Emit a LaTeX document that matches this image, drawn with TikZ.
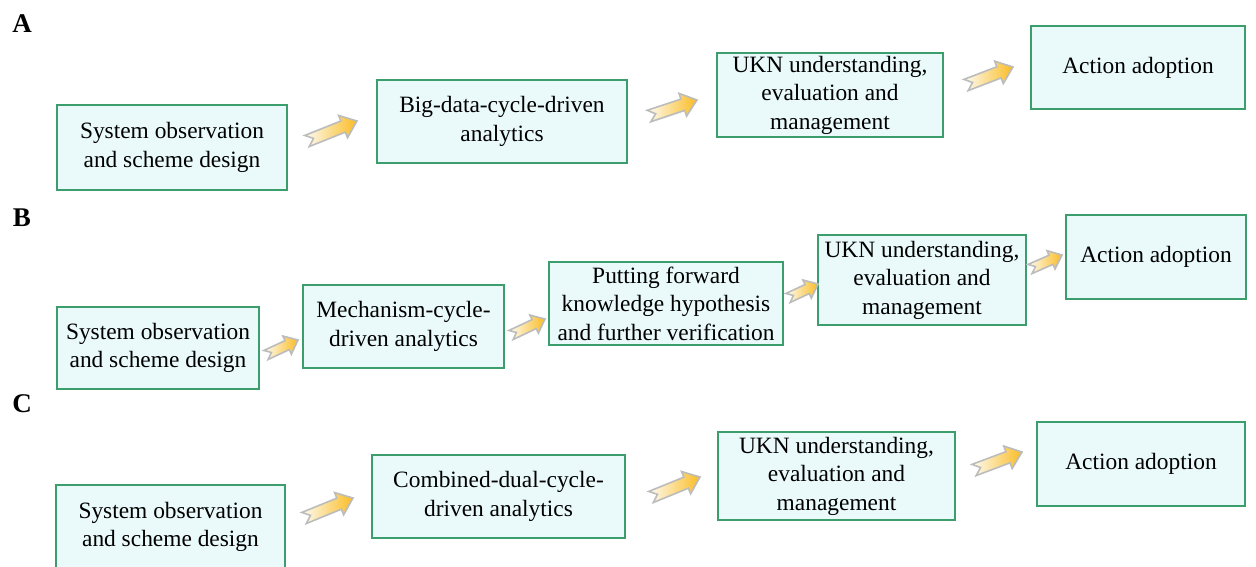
\documentclass[tikz,border=0pt]{standalone}
\usepackage{fontspec}
\setmainfont{Liberation Serif}
\usetikzlibrary{calc}
\definecolor{boxgreen}{RGB}{60,158,108}
\definecolor{boxfill}{RGB}{234,250,250}
\definecolor{argold}{RGB}{250,188,36}
\definecolor{artail}{RGB}{253,251,242}
\definecolor{arline}{RGB}{188,188,188}
\tikzset{
  stagebox/.style={draw=boxgreen, line width=2pt, fill=boxfill, inner sep=0pt,
    align=center, font=\fontsize{23.4}{28.5}\selectfont},
  rowlabel/.style={font=\fontsize{27}{30}\selectfont\bfseries, inner sep=0pt},
  flowarrowstyle/.style={draw=arline, line width=1.6pt, line join=miter,
    left color=artail, right color=argold},
}
% box from corner (x1,y1) to (x2,y2) in pixel units
\newcommand\stage[6]{%
  \node[stagebox, minimum width={(#4-#2)*1pt}, minimum height={(#5-#3)*1pt}]
    (#1) at ({(#2+#4)/2},{(#3+#5)/2}) {#6};}
% block arrow from tail coordinate #1 to tip coordinate #2
\newcommand\flowarrow[6]{%
  \coordinate (#1-n) at ($(#1)!#6!(#2)$);
  \coordinate (#1-b) at ($(#2)!#5!(#1)$);
  \shadedraw[flowarrowstyle] ($(#1)!#3!90:(#2)$) -- ($(#1-b)!#3!-90:(#1)$)
    -- ($(#1-b)!#4!-90:(#1)$) -- (#2) -- ($(#1-b)!#4!90:(#1)$)
    -- ($(#1-b)!#3!90:(#1)$) -- ($(#1)!#3!-90:(#2)$) -- (#1-n) -- cycle;}
\begin{document}
\begin{tikzpicture}[x=1pt,y=-1pt]
\useasboundingbox (0,0) rectangle (1256,566);
% row labels
\node[rowlabel] (labA) at (22,24) {A};
\node[rowlabel] (labB) at (22,218) {B};
\node[rowlabel] (labC) at (22,404) {C};
% row A
\stage{A1}{57}{105}{287}{190}{System observation\\and scheme design}
\stage{A2}{377}{80}{627}{163}{Big-data-cycle-driven\\analytics}
\stage{A3}{717}{53}{943}{137}{UKN understanding,\\evaluation and\\management}
\stage{A4}{1031}{26}{1245}{109}{Action adoption}
% row B
\stage{B1}{57}{307}{259}{389}{System observation\\and scheme design}
\stage{B2}{303}{285}{504}{368}{Mechanism-cycle-\\driven analytics}
\stage{B3}{549}{262}{783}{345}{Putting forward\\knowledge hypothesis\\and further verification}
\stage{B4}{818}{235}{1026}{325}{UKN understanding,\\evaluation and\\management}
\stage{B5}{1066}{215}{1246}{299}{Action adoption}
% row C
\stage{C1}{56}{485}{285}{569}{System observation\\and scheme design}
\stage{C2}{372}{455}{625}{538}{Combined-dual-cycle-\\driven analytics}
\stage{C3}{718}{432}{955}{520}{UKN understanding,\\evaluation and\\management}
\stage{C4}{1037}{422}{1245}{506}{Action adoption}
% arrow end points
\coordinate (tA1) at (307,141); \coordinate (hA1) at (357,121);
\coordinate (tA2) at (649,116); \coordinate (hA2) at (697,100);
\coordinate (tA3) at (966,85);  \coordinate (hA3) at (1013,67);
\coordinate (tB1) at (266,355); \coordinate (hB1) at (298,340);
\coordinate (tB2) at (511,335); \coordinate (hB2) at (545,319);
\coordinate (tB3) at (788,298); \coordinate (hB3) at (818,284);
\coordinate (tB4) at (1030,269); \coordinate (hB4) at (1062,255);
\coordinate (tC1) at (304,518); \coordinate (hC1) at (353,498);
\coordinate (tC2) at (651,497); \coordinate (hC2) at (700,477);
\coordinate (tC3) at (974,470); \coordinate (hC3) at (1022,452);
\flowarrow{tA1}{hA1}{6pt}{12pt}{15pt}{7pt}
\flowarrow{tA2}{hA2}{6pt}{12pt}{15pt}{7pt}
\flowarrow{tA3}{hA3}{6pt}{12pt}{15pt}{7pt}
\flowarrow{tB1}{hB1}{5pt}{10pt}{12pt}{6pt}
\flowarrow{tB2}{hB2}{5pt}{10pt}{12pt}{6pt}
\flowarrow{tB3}{hB3}{5pt}{10pt}{12pt}{6pt}
\flowarrow{tB4}{hB4}{5pt}{10pt}{12pt}{6pt}
\flowarrow{tC1}{hC1}{6pt}{12pt}{15pt}{7pt}
\flowarrow{tC2}{hC2}{6pt}{12pt}{15pt}{7pt}
\flowarrow{tC3}{hC3}{6pt}{12pt}{15pt}{7pt}
\end{tikzpicture}
\end{document}
